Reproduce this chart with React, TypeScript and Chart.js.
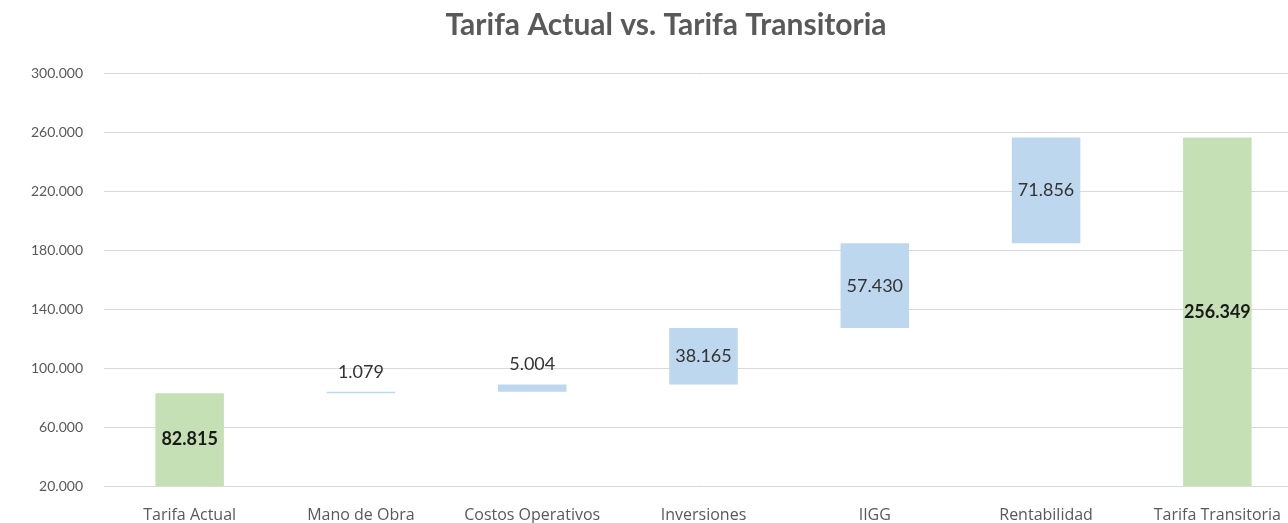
import React, { useEffect, useRef } from "react";
import { Chart, registerables } from "chart.js";

Chart.register(...registerables);

const title = "Tarifa Actual vs. Tarifa Transitoria";
const categories = [
  "Tarifa Actual",
  "Mano de Obra",
  "Costos Operativos",
  "Inversiones",
  "IIGG",
  "Rentabilidad",
  "Tarifa Transitoria",
];
// step values of the waterfall (first and last are totals)
const stepValues = [82815, 1079, 5004, 38165, 57430, 71856, 256349];
const isTotal = [true, false, false, false, false, false, true];
const yTicks = [20000, 60000, 100000, 140000, 180000, 220000, 260000, 300000];

const GREEN = "#c5e0b4";
const BLUE = "#bdd7ee";

function fmt(v: number) {
  return Math.round(v)
    .toString()
    .replace(/\B(?=(\d{3})+(?!\d))/g, ".");
}

function buildRanges() {
  const out: [number, number][] = [];
  let run = 0;
  stepValues.forEach((v, i) => {
    if (isTotal[i]) {
      out.push([0, v]);
      run = v;
    } else {
      out.push([run, run + v]);
      run += v;
    }
  });
  return out;
}

export default function App() {
  const ref = useRef<HTMLCanvasElement | null>(null);

  useEffect(() => {
    if (!ref.current) return;
    const ranges = buildRanges();

    const labelPlugin = {
      id: "wfLabels",
      afterDatasetsDraw(chart: any) {
        const ctx = chart.ctx;
        const meta = chart.getDatasetMeta(0);
        const area = chart.chartArea;
        ctx.save();
        ctx.textAlign = "center";
        ctx.textBaseline = "middle";
        meta.data.forEach((bar: any, i: number) => {
          const top = Math.max(Math.min(bar.y, bar.base), area.top);
          const bottom = Math.min(Math.max(bar.y, bar.base), area.bottom);
          const h = bottom - top;
          ctx.font = (isTotal[i] ? "bold 18px " : "18px ") + "Lato, 'Noto Sans', sans-serif";
          ctx.fillStyle = isTotal[i] ? "#1a1a1a" : "#333333";
          const y = h < 20 ? top - 20 : (top + bottom) / 2;
          ctx.fillText(fmt(stepValues[i]), bar.x, y);
        });
        ctx.restore();
      },
    };

    const titlePlugin = {
      id: "wfTitle",
      afterDraw(chart: any) {
        const ctx = chart.ctx;
        ctx.save();
        ctx.font = "bold 30px Lato, 'Noto Sans', sans-serif";
        ctx.fillStyle = "#595959";
        ctx.textAlign = "center";
        ctx.textBaseline = "alphabetic";
        ctx.fillText(title, 666, 35);
        ctx.restore();
      },
    };

    const chart = new Chart(ref.current, {
      type: "bar",
      data: {
        labels: categories,
        datasets: [
          {
            data: ranges as any,
            backgroundColor: isTotal.map((t) => (t ? GREEN : BLUE)),
            borderWidth: 0,
            barPercentage: 0.4,
            categoryPercentage: 1,
            borderSkipped: false,
          },
        ],
      },
      options: {
        animation: false,
        responsive: false,
        maintainAspectRatio: false,
        layout: { padding: { top: 73, left: 0, right: 0, bottom: 0 } },
        plugins: {
          legend: { display: false },
          tooltip: { enabled: false },
          title: { display: false },
        },
        scales: {
          x: {
            grid: { display: false, drawTicks: false },
            border: { display: false },
            ticks: {
              padding: 20,
              color: "#595959",
              font: { family: "'Open Sans', Lato, sans-serif", size: 16 },
              maxRotation: 0,
              autoSkip: false,
            },
            afterFit(scale: any) {
              scale.height = 37;
            },
          },
          y: {
            min: 20000,
            max: 300000,
            afterBuildTicks(scale: any) {
              scale.ticks = yTicks.map((v) => ({ value: v }));
            },
            grid: { color: "#d9d9d9", lineWidth: 1, drawTicks: false },
            border: { display: false },
            ticks: {
              padding: 21,
              color: "#595959",
              font: { family: "Lato, 'Noto Sans', sans-serif", size: 14 },
              callback: (v: any) => fmt(Number(v)),
            },
            afterFit(scale: any) {
              scale.width = 104;
            },
          },
        },
      },
      plugins: [labelPlugin, titlePlugin],
    });
    return () => chart.destroy();
  }, []);

  return (
    <div
      style={{
        position: "fixed",
        left: 0,
        top: 0,
        width: 1288,
        height: 523,
        overflow: "hidden",
        background: "#ffffff",
      }}
    >
      <canvas ref={ref} width={1303} height={523} style={{ width: 1303, height: 523, display: "block" }} />
    </div>
  );
}
